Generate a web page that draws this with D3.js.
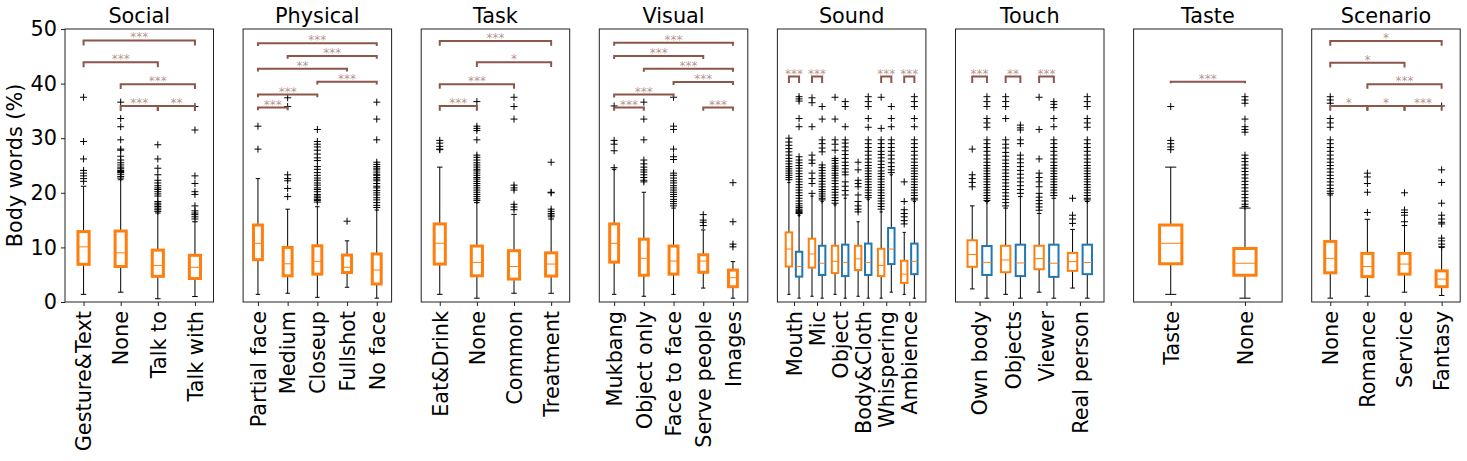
<!DOCTYPE html>
<html><head><meta charset="utf-8">
<script src="https://cdn.jsdelivr.net/npm/d3@7"></script>
<style>body{margin:0;background:#fff} text{font-family:"DejaVu Sans",sans-serif}</style>
</head><body><svg id="c" width="1467" height="461"></svg>
<script>
// ---------------- DATA ----------------
const yTicks = [0, 10, 20, 30, 40, 50];
const yLabel = "Body words (%)";
const panelTitles = ["Social", "Physical", "Task", "Visual", "Sound", "Touch", "Taste", "Scenario"];

// stats: [whiskerLow, q1, median, q3, whiskerHigh]
const socialCats = ["Gesture&Text", "None", "Talk to", "Talk with"];
const socialStats = [[1.4, 6.9, 10.1, 12.9, 21.2], [1.8, 6.5, 9.0, 13.0, 22.4], [0.6, 4.7, 6.7, 9.5, 16.3], [1.0, 4.3, 6.35, 8.55, 14.7]];
const socialFliers = [
  [37.5, 29.4, 26.2, 24.1, 23.6, 23.1, 22.6, 22.1],
  [36.6, 33.6, 32.1, 29.7, 28.0, 27.8, 26.7, 26.0, 25.5, 25.1, 24.7, 24.4, 24.1, 23.9, 23.7, 23.4, 23.0, 22.7],
  [28.8, 26.2, 24.5, 23.3, 22.3, 21.8, 21.3, 20.9, 20.6, 20.2, 19.8, 19.4, 18.4, 18.1, 17.8, 17.5, 17.2, 16.9, 16.6],
  [35.8, 31.5, 23.1, 21.7, 20.2, 19.7, 17.6, 16.7, 16.3, 16.0, 15.6, 15.2]
];
const socialSig = [[1, 4, 47.9, "***"], [1, 3, 43.9, "***"], [2, 4, 39.9, "***"], [2, 3, 35.9, "***"], [3, 4, 35.9, "**"]];

const physicalCats = ["Partial face", "Medium", "Closeup", "Fullshot", "No face"];
const physicalStats = [[1.4, 7.75, 10.75, 14.1, 22.6], [1.6, 4.8, 7.0, 10.0, 17.0], [0.85, 5.1, 7.45, 10.3, 17.45], [2.7, 5.4, 6.35, 8.6, 11.2], [0.7, 3.3, 5.85, 8.8, 16.85]];
const physicalFliers = [
  [32.2, 28.0],
  [37.4, 35.8, 23.3, 22.6, 22.2, 20.8, 19.3],
  [31.6, 29.4, 28.9, 28.4, 27.8, 27.1, 26.4, 25.9, 24.8, 24.3, 23.7, 23.2, 22.7, 22.3, 21.8, 21.4, 20.9, 20.6, 20.2, 19.7, 19.4, 19.1, 18.8, 18.6, 18.3],
  [14.8],
  [36.6, 33.5, 29.7, 25.6, 25.2, 24.8, 24.5, 24.2, 23.8, 23.4, 23.2, 22.8, 22.5, 22.2, 21.7, 21.2, 20.9, 20.4, 20.0, 19.6, 19.1, 18.7, 18.2, 17.7, 17.3]
];
const physicalSig = [[1, 5, 47.4, "***"], [2, 5, 45.05, "***"], [1, 4, 42.7, "**"], [3, 5, 40.35, "***"], [1, 3, 38.0, "***"], [1, 2, 35.6, "***"]];

const taskCats = ["Eat&Drink", "None", "Common", "Treatment"];
const taskStats = [[1.4, 6.95, 10.75, 14.3, 24.7], [0.7, 4.8, 7.25, 10.25, 18.2], [1.6, 4.2, 6.5, 9.4, 16.05], [1.6, 4.75, 6.95, 9.0, 15.2]];
const taskFliers = [
  [29.6, 29.1, 28.5, 28.0, 27.9],
  [36.7, 32.2, 31.8, 31.4, 29.7, 26.9, 26.5, 26.0, 25.5, 25.1, 24.7, 24.3, 24.0, 23.6, 23.2, 22.8, 22.5, 22.1, 21.7, 21.3, 20.9, 20.5, 20.1, 19.7, 19.3, 18.9, 18.6],
  [37.5, 35.8, 33.5, 21.4, 20.9, 20.5, 17.9, 17.4, 16.9],
  [25.6, 20.1, 20.0, 17.0, 16.6, 16.2, 15.9, 15.6]
];
const taskSig = [[1, 4, 47.8, "***"], [2, 4, 43.9, "*"], [1, 3, 39.9, "***"], [1, 2, 35.9, "***"]];

const visualCats = ["Mukbang", "Object only", "Face to face", "Serve people", "Images"];
const visualStats = [[1.4, 7.3, 10.75, 14.3, 24.3], [1.05, 4.9, 8.0, 11.5, 20.1], [1.4, 5.1, 7.5, 10.25, 17.2], [2.55, 5.45, 7.5, 8.65, 13.2], [0.7, 2.8, 4.45, 5.85, 7.4]];
const visualFliers = [
  [35.9, 29.6, 28.9, 27.7, 24.6],
  [36.6, 33.5, 29.7, 26.0, 25.3, 24.7, 24.2, 23.8, 23.3, 22.8, 22.3, 22.0],
  [37.5, 32.2, 31.6, 28.0, 26.6, 26.1, 23.6, 23.2, 22.7, 22.2, 21.8, 21.3, 20.9, 20.5, 20.1, 19.7, 19.3, 18.8, 18.4, 18.0, 17.6],
  [16.0, 15.0, 14.6, 14.0],
  [21.85, 14.7, 10.6, 10.1]
];
const visualSig = [[1, 5, 47.5, "***"], [1, 4, 45.05, "***"], [2, 5, 42.7, "***"], [3, 5, 40.3, "***"], [1, 3, 38.0, "***"], [1, 2, 35.6, "***"], [4, 5, 35.6, "***"]];

const soundCats = ["Mouth", "Mic", "Object", "Body&Cloth", "Whispering", "Ambience"];
const soundOrangeStats = [[1.4, 6.5, 9.7, 12.75, 21.9], [1.05, 6.3, 8.8, 11.6, 19.4], [1.4, 5.3, 7.45, 10.3, 17.8], [1.05, 5.85, 7.9, 10.3, 14.7], [0.7, 4.75, 6.7, 9.75, 16.5], [1.4, 3.5, 5.1, 7.55, 12.75]];
const soundOrangeFliers = [
  [30.0, 29.3, 28.7, 28.1, 27.5, 26.9, 26.3, 25.8, 25.3, 24.8, 24.4, 24.0, 23.6, 23.2, 22.8, 22.4],
  [37.4, 36.5, 32.1, 26.9, 26.0, 25.4, 23.6, 22.6, 21.7, 19.9],
  [37.5, 33.5, 29.7, 28.9, 27.8, 26.3, 25.9, 25.4, 24.9, 24.5, 24.1, 23.6, 23.2, 22.7, 22.2, 21.7, 21.1, 20.6, 20.1, 19.6, 19.1, 18.6, 18.1],
  [25.6, 24.2, 22.3, 21.7, 21.1, 19.6, 18.4, 17.6, 17.0, 16.5],
  [37.5, 31.8, 29.7, 29.0, 28.3, 27.6, 27.0, 26.4, 25.8, 25.2, 24.6, 24.0, 23.5, 23.0, 22.5, 22.0, 21.5, 21.0, 20.5, 20.0, 19.5, 19.0, 18.5, 18.0, 17.5, 17.0],
  [22.0, 18.4, 16.9, 16.2, 15.6, 14.9, 14.3]
];
const soundBlueStats = [[0.7, 4.65, 6.5, 9.2, 15.9], [0.7, 4.95, 7.1, 10.3, 18.4], [0.7, 4.75, 7.25, 10.5, 19.0], [0.7, 4.95, 7.25, 10.7, 18.8], [1.8, 6.95, 9.7, 13.55, 23.3], [0.7, 5.1, 7.45, 10.7, 18.4]];
const soundBlueFliers = [
  [37.6, 37.2, 36.8, 33.6, 32.1, 26.6, 26.0, 25.5, 25.0, 24.5, 24.0, 23.5, 23.0, 22.5, 22.0, 21.5, 21.0, 20.5, 20.0, 19.5, 19.0, 18.5, 18.0, 17.6, 17.3, 17.0, 16.8, 16.6, 16.4, 16.2],
  [35.8, 33.5, 29.7, 29.0, 28.2, 27.5, 25.1, 24.6, 24.1, 23.6, 23.1, 22.6, 22.1, 21.6, 21.1, 20.6, 20.2, 19.8, 19.4, 19.0, 18.7],
  [36.7, 35.8, 32.1, 29.7, 29.1, 28.4, 27.7, 27.0, 26.3, 25.6, 25.0, 24.4, 23.8, 23.3, 22.0, 21.2, 20.4, 19.6],
  [37.6, 36.7, 35.8, 33.6, 32.0, 29.7, 29.0, 28.3, 27.6, 26.9, 26.2, 25.6, 25.0, 24.5, 24.0, 23.5, 23.0, 22.5, 22.0, 21.5, 21.0, 20.5, 20.0, 19.5, 19.1],
  [35.8, 33.6, 32.1, 29.7, 29.0, 28.3, 27.6, 26.9, 26.2, 25.5, 24.8, 24.2, 23.7],
  [37.6, 36.7, 35.8, 33.6, 32.1, 29.7, 29.0, 28.3, 27.6, 26.9, 26.2, 25.6, 25.0, 24.5, 24.0, 23.5, 23.0, 22.5, 22.0, 21.5, 21.0, 20.5, 20.0, 19.5, 19.0, 18.7]
];
const soundSig = [[1, 41.3, "***"], [2, 41.3, "***"], [5, 41.3, "***"], [6, 41.3, "***"]];

const touchCats = ["Own body", "Objects", "Viewer", "Real person"];
const touchOrangeStats = [[2.4, 6.45, 8.7, 11.3, 17.6], [1.4, 5.45, 7.7, 10.3, 17.2], [1.8, 6.0, 7.95, 10.3, 16.2], [2.55, 5.7, 7.4, 9.0, 13.3]];
const touchOrangeFliers = [
  [28.0, 23.3, 22.6, 21.9, 21.1],
  [37.6, 36.7, 35.8, 33.6, 29.7, 28.9, 28.2, 27.4, 26.7, 26.0, 25.4, 24.8, 24.2, 23.6, 23.0, 22.4, 21.8, 21.2, 20.6, 20.0, 19.4, 18.8, 18.2, 17.6],
  [37.5, 31.6, 26.2, 23.6, 22.8, 22.0, 21.1, 19.9, 19.2, 18.6, 18.0, 17.4, 16.8],
  [19.0, 15.9, 15.2, 14.4]
];
const touchBlueStats = [[0.7, 4.95, 7.25, 10.25, 18.4], [0.7, 4.75, 7.15, 10.5, 19.3], [0.7, 4.6, 7.1, 10.5, 19.0], [0.7, 5.1, 7.25, 10.5, 18.4]];
const touchBlueFliers = [
  [37.6, 36.7, 35.8, 33.6, 32.8, 32.0, 29.7, 29.0, 28.3, 27.6, 26.9, 26.2, 25.6, 25.0, 24.5, 24.0, 23.5, 23.0, 22.5, 22.0, 21.5, 21.0, 20.5, 20.0, 19.5, 19.0, 18.6],
  [32.4, 31.9, 31.5, 29.7, 29.0, 26.9, 26.2, 25.5, 24.8, 24.1, 23.4, 22.7, 22.0, 21.3, 20.6, 19.9],
  [36.7, 36.2, 35.6, 33.6, 32.1, 29.7, 29.0, 28.3, 27.6, 26.9, 26.2, 25.6, 25.0, 24.5, 24.0, 23.5, 23.0, 22.5, 22.0, 21.5, 21.0, 20.5, 20.0, 19.5],
  [37.6, 36.7, 35.8, 33.6, 32.8, 32.0, 29.7, 29.0, 28.3, 27.6, 26.9, 26.2, 25.6, 25.0, 24.5, 24.0, 23.5, 23.0, 22.5, 22.0, 21.5, 21.0, 20.5, 20.0, 19.5, 19.0, 18.7]
];
const touchSig = [[1, 41.3, "***"], [2, 41.3, "**"], [3, 41.3, "***"]];

const tasteCats = ["Taste", "None"];
const tasteStats = [[1.4, 7.0, 10.75, 14.1, 24.7], [0.7, 4.9, 7.1, 9.8, 17.2]];
const tasteFliers = [
  [35.8, 29.6, 29.0, 28.4, 27.9],
  [37.6, 37.0, 36.4, 33.5, 32.1, 31.6, 31.1, 26.9, 26.3, 25.7, 25.1, 24.5, 23.9, 23.3, 22.7, 22.1, 21.5, 20.9, 20.3, 19.7, 19.1, 18.5, 17.9, 17.5]
];
const tasteSig = [[1, 2, 40.35, "***"]];

const scenarioCats = ["None", "Romance", "Service", "Fantasy"];
const scenarioStats = [[0.7, 5.35, 8.0, 11.1, 19.6], [1.05, 4.65, 6.5, 8.9, 15.15], [1.8, 5.1, 6.95, 8.9, 14.0], [1.2, 2.8, 4.2, 5.7, 10.0]];
const scenarioFliers = [
  [37.6, 37.0, 36.4, 33.6, 32.8, 32.0, 29.7, 29.0, 28.3, 27.6, 26.9, 26.2, 25.6, 25.0, 24.4, 23.8, 23.2, 22.6, 22.0, 21.4, 20.8, 20.3, 19.9],
  [23.6, 22.9, 21.7, 20.1, 16.4],
  [20.0, 16.85, 16.4, 15.9, 14.7],
  [35.9, 24.2, 21.9, 18.1, 15.9, 15.2, 14.6, 14.3, 11.7, 11.2, 10.6, 10.1]
];
const scenarioSig = [[1, 4, 47.8, "*"], [1, 3, 43.8, "*"], [2, 4, 39.9, "***"], [1, 2, 35.9, "*"], [2, 3, 35.9, "*"], [3, 4, 35.9, "***"]];

// ---------------- PANEL SPECS ----------------
const ORANGE = "#ff7f0e", BLUE = "#1f77b4", BRACKET = "#8c564b";
const single = (title, cats, stats, fliers, sig, leg) => ({
  title, cats, paired: false, leg,
  groups: [{ stats, fliers, offset: 0, color: ORANGE, lw: 3, width: 0.3 }],
  sig: sig.map(([a, b, yv, l]) => ({ x1: a, x2: b, y: yv, l }))
});
const paired = (title, cats, oS, oF, bS, bF, sig, leg) => ({
  title, cats, paired: true, leg,
  groups: [
    { stats: oS, fliers: oF, offset: -0.22, color: ORANGE, lw: 2, width: 0.28 },
    { stats: bS, fliers: bF, offset: 0.22, color: BLUE, lw: 2, width: 0.28 }
  ],
  sig: sig.map(([p, yv, l]) => ({ x1: p - 0.22, x2: p + 0.22, y: yv, l }))
});
const panels = [
  single(panelTitles[0], socialCats, socialStats, socialFliers, socialSig, 0.9),
  single(panelTitles[1], physicalCats, physicalStats, physicalFliers, physicalSig, 0.5),
  single(panelTitles[2], taskCats, taskStats, taskFliers, taskSig, 0.85),
  single(panelTitles[3], visualCats, visualStats, visualFliers, visualSig, 0.55),
  paired(panelTitles[4], soundCats, soundOrangeStats, soundOrangeFliers, soundBlueStats, soundBlueFliers, soundSig, 1.2),
  paired(panelTitles[5], touchCats, touchOrangeStats, touchOrangeFliers, touchBlueStats, touchBlueFliers, touchSig, 1.2),
  single(panelTitles[6], tasteCats, tasteStats, tasteFliers, tasteSig, 0.3),
  single(panelTitles[7], scenarioCats, scenarioStats, scenarioFliers, scenarioSig, 0.85)
];

// ---------------- DRAW ----------------
(function () {
const svg = d3.select("#c");
const topY = 29, botY = 302, left0 = 65, pw = 148.5, step = 178.1;
const FS = 20.8;
const y = d3.scaleLinear().domain([0, 50]).range([botY, topY]);

const ya = svg.append("g").attr("transform", `translate(${left0},0)`)
  .call(d3.axisLeft(y).tickValues(yTicks).tickSize(4).tickPadding(4));
ya.select(".domain").remove();
ya.selectAll("text").attr("font-size", FS).attr("fill", "#000").style("font-family", "DejaVu Sans");
ya.selectAll("line").attr("stroke", "#222");
svg.append("text").attr("transform", `translate(22,${(topY + botY) / 2}) rotate(-90)`)
  .attr("text-anchor", "middle").attr("font-size", FS).text(yLabel);

panels.forEach((p, pi) => {
  const L = left0 + pi * step, R = L + pw;
  const n = p.cats.length;
  const dom = p.paired ? [1 - 0.22 - 0.5, n + 0.22 + 0.5] : [0.5, n + 0.5];
  const x = d3.scaleLinear().domain(dom).range([L, R]);
  const g = svg.append("g");
  const unit = x(1) - x(0);

  p.groups.forEach(gr => {
    gr.stats.forEach((s, i) => {
      const cx = x(i + 1 + gr.offset);
      const hw = gr.width * unit / 2;
      const [wl, q1, md, q3, wh] = s;
      g.append("line").attr("x1", cx).attr("x2", cx).attr("y1", y(q1)).attr("y2", y(wl)).attr("stroke", "#000").attr("stroke-width", 1);
      g.append("line").attr("x1", cx).attr("x2", cx).attr("y1", y(q3)).attr("y2", y(wh)).attr("stroke", "#000").attr("stroke-width", 1);
      [wl, wh].forEach(v => g.append("line").attr("x1", cx - hw / 2).attr("x2", cx + hw / 2).attr("y1", y(v)).attr("y2", y(v)).attr("stroke", "#000").attr("stroke-width", 1));
      gr.fliers[i].forEach(v => {
        g.append("path").attr("d", `M${cx - 3.5},${y(v)}H${cx + 3.5}M${cx},${y(v) - 3.5}V${y(v) + 3.5}`).attr("stroke", "#000").attr("stroke-width", 1);
      });
      g.append("rect").attr("x", cx - hw).attr("y", y(q3)).attr("width", 2 * hw).attr("height", y(q1) - y(q3))
        .attr("fill", "none").attr("stroke", gr.color).attr("stroke-width", gr.lw);
      g.append("line").attr("x1", cx - hw).attr("x2", cx + hw).attr("y1", y(md)).attr("y2", y(md)).attr("stroke", ORANGE).attr("stroke-width", 1);
    });
  });

  p.sig.forEach(b => {
    const x1 = x(b.x1), x2 = x(b.x2), yy = y(b.y), yl = y(b.y - p.leg);
    g.append("path").attr("d", `M${x1},${yl}V${yy}H${x2}V${yl}`).attr("fill", "none").attr("stroke", BRACKET).attr("stroke-width", 2);
    g.append("text").attr("x", (x1 + x2) / 2).attr("y", yy + 1).attr("text-anchor", "middle")
      .attr("font-size", 12).attr("fill", BRACKET).attr("fill-opacity", 0.65).text(b.l);
  });

  const xa = svg.append("g").attr("transform", `translate(0,${botY})`)
    .call(d3.axisBottom(x).tickValues(d3.range(1, n + 1)).tickFormat(i => p.cats[i - 1]).tickSize(4));
  xa.select(".domain").remove();
  xa.selectAll("line").attr("stroke", "#222");
  xa.selectAll("text").attr("transform", "rotate(-90)").attr("x", -9).attr("y", 0).attr("dy", "0.35em")
    .attr("text-anchor", "end").attr("font-size", FS).attr("fill", "#000").style("font-family", "DejaVu Sans");

  svg.append("rect").attr("x", L).attr("y", topY).attr("width", pw).attr("height", botY - topY)
    .attr("fill", "none").attr("stroke", "#222").attr("stroke-width", 1);
  svg.append("text").attr("x", (L + R) / 2).attr("y", 23).attr("text-anchor", "middle").attr("font-size", FS).text(p.title);
});
})();
</script></body></html>
